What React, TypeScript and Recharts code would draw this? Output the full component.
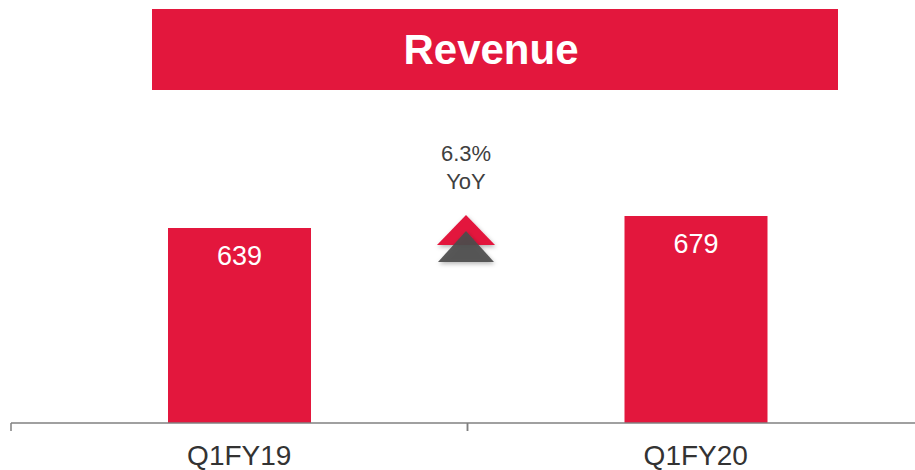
import { BarChart, Bar, XAxis, YAxis, LabelList } from 'recharts';

const categories = ['Q1FY19', 'Q1FY20'];
const revenue = [639, 679];
const title = 'Revenue';
const growthLabel = ['6.3%', 'YoY'];

const RED = '#E3173D';
const AXIS = '#808080';
const FONT = 'Liberation Sans, Arial, sans-serif';

const data = categories.map((c, i) => ({ period: c, revenue: revenue[i] }));

function CategoryTick(props: any) {
  const { x, y, payload } = props;
  const half = payload && payload.offset ? payload.offset : 228;
  return (
    <g>
      <line x1={x - half} y1={y - 8} x2={x - half} y2={y} stroke={AXIS} strokeWidth={1.5} />
      <line x1={x + half} y1={y - 8} x2={x + half} y2={y} stroke={AXIS} strokeWidth={1.5} />
      <text x={x} y={y + 34} textAnchor="middle" fontSize={28} fill="#333" fontFamily={FONT}>
        {payload.value}
      </text>
    </g>
  );
}

export default function App() {
  return (
    <div style={{ position: 'fixed', left: 0, top: 0, width: 915, height: 470, overflow: 'hidden', background: '#fff', fontFamily: FONT }}>
      <div style={{ position: 'absolute', left: 152, top: 9, width: 686, height: 81, background: RED, color: '#fff', fontWeight: 'bold', fontSize: 42, display: 'flex', alignItems: 'center', justifyContent: 'center' }}>
        <span style={{ marginLeft: -8 }}>{title}</span>
      </div>
      <div style={{ position: 'absolute', left: 0, top: 0 }}>
        <BarChart width={930} height={470} data={data} margin={{ top: 118, right: 6, bottom: 0, left: 11 }}>
          <XAxis
            dataKey="period"
            height={47}
            axisLine={{ stroke: AXIS, strokeWidth: 1.5 }}
            tickLine={false}
            tick={<CategoryTick />}
            interval={0}
          />
          <YAxis hide domain={[0, 1000]} />
          <Bar dataKey="revenue" fill={RED} barSize={143} isAnimationActive={false}>
            <LabelList dataKey="revenue" position="insideTop" offset={18} fill="#fff" fontSize={27} fontFamily={FONT} />
          </Bar>
        </BarChart>
      </div>
      <svg width={915} height={470} style={{ position: 'absolute', left: 0, top: 0, pointerEvents: 'none' }}>
        <defs>
          <filter id="sh" x="-30%" y="-30%" width="160%" height="160%">
            <feDropShadow dx="1" dy="2" stdDeviation="2" floodColor="#000" floodOpacity="0.3" />
          </filter>
        </defs>
        <text x={466} y={161} textAnchor="middle" fontSize={22} fill="#404040" fontFamily={FONT}>{growthLabel[0]}</text>
        <text x={466} y={189} textAnchor="middle" fontSize={22} fill="#404040" fontFamily={FONT}>{growthLabel[1]}</text>
        <polygon points="437,245 466,215 495,245" fill={RED} filter="url(#sh)" />
        <polygon points="438,262 466,231 494,262" fill="#4d4d4d" fillOpacity={0.92} filter="url(#sh)" />
      </svg>
    </div>
  );
}
